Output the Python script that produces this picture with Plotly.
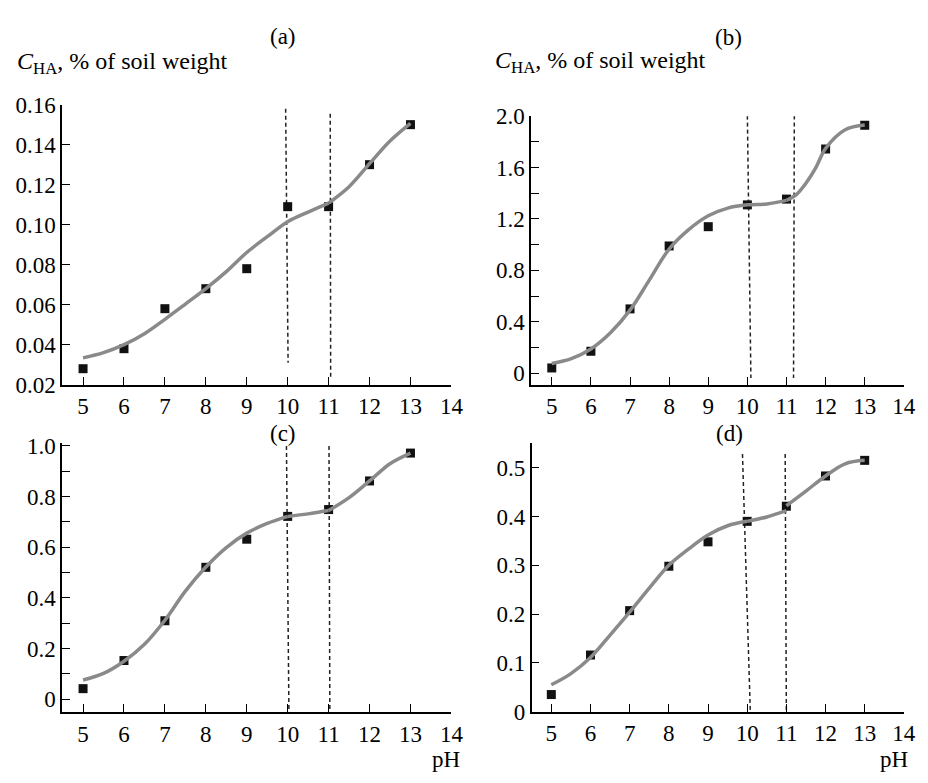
import plotly.graph_objects as go

# ---------------- data ----------------
PH = [5, 6, 7, 8, 9, 10, 11, 12, 13]
X_TICKS = [5, 6, 7, 8, 9, 10, 11, 12, 13, 14]

CHA_A = [0.028, 0.038, 0.058, 0.068, 0.078, 0.109, 0.109, 0.130, 0.150]
CHA_B = [0.04, 0.17, 0.50, 0.99, 1.14, 1.31, 1.355, 1.745, 1.93]
CHA_C = [0.042, 0.153, 0.31, 0.521, 0.632, 0.722, 0.749, 0.862, 0.972]
CHA_D = [0.035, 0.116, 0.207, 0.298, 0.348, 0.39, 0.421, 0.483, 0.515]

# fitted curves, in segments separated at the dashed lines
FIT_A_X = [[5, 5.5, 6, 6.5, 7, 7.5, 8, 8.5, 9, 9.5, 10, 10.5, 11], [11, 11.5, 12, 12.5, 13]]
FIT_A_Y = [[0.0334, 0.036, 0.040, 0.0455, 0.0527, 0.0603, 0.068, 0.0765, 0.0861, 0.094, 0.1015, 0.1063, 0.1108],
           [0.1108, 0.119, 0.1305, 0.1418, 0.1506]]

FIT_B_X = [[5, 5.5, 6, 6.5, 7, 7.5, 8, 8.5, 9, 9.5, 10, 10.5, 11],
           [11, 11.25, 11.5, 11.75, 12, 12.5, 13]]
FIT_B_Y = [[0.075, 0.113, 0.188, 0.314, 0.49, 0.728, 0.966, 1.117, 1.225, 1.285, 1.31, 1.317, 1.345],
           [1.345, 1.39, 1.48, 1.60, 1.75, 1.895, 1.932]]

FIT_C_X = [[5, 5.5, 6, 6.5, 7, 7.5, 8, 8.5, 9, 9.5, 10], [10, 10.5, 11],
           [11, 11.5, 12, 12.5, 13]]
FIT_C_Y = [[0.076, 0.102, 0.15, 0.217, 0.312, 0.427, 0.522, 0.599, 0.656, 0.694, 0.722],
           [0.722, 0.732, 0.745], [0.745, 0.796, 0.862, 0.93, 0.972]]

FIT_D_X = [[5, 5.5, 6, 6.5, 7, 7.5, 8, 8.5, 9, 9.5, 10], [10, 10.5, 11],
           [11, 11.5, 12, 12.5, 13]]
FIT_D_Y = [[0.055, 0.078, 0.111, 0.157, 0.204, 0.253, 0.30, 0.333, 0.362, 0.381, 0.39],
           [0.39, 0.399, 0.412], [0.422, 0.452, 0.483, 0.508, 0.515]]

# dashed boundary lines: [x_top, x_bottom], [y_top, y_bottom]
DASH_A_X = [[9.95, 10.01], [11.04, 11.05]]
DASH_A_Y = [[0.158, 0.031], [0.1555, 0.024]]
DASH_B_X = [[10.0, 10.09], [11.2, 11.18]]
DASH_B_Y = [[2.005, -0.038], [2.005, -0.038]]
DASH_C_X = [[9.97, 10.03], [11.01, 11.03]]
DASH_C_Y = [[1.0, -0.045], [1.0, -0.045]]
DASH_D_X = [[9.88, 10.08], [10.97, 11.0]]
DASH_D_Y = [[0.528, 0.0], [0.528, 0.0]]

Y_TICKS_A = [0.02, 0.04, 0.06, 0.08, 0.10, 0.12, 0.14, 0.16]
Y_TEXT_A = ["0.02", "0.04", "0.06", "0.08", "0.10", "0.12", "0.14", "0.16"]
Y_TICKS_B = [0, 0.4, 0.8, 1.2, 1.6, 2.0]
Y_TEXT_B = ["0", "0.4", "0.8", "1.2", "1.6", "2.0"]
Y_TICKS_C = [0, 0.2, 0.4, 0.6, 0.8, 1.0]
Y_TEXT_C = ["0", "0.2", "0.4", "0.6", "0.8", "1.0"]
Y_TICKS_D = [0, 0.1, 0.2, 0.3, 0.4, 0.5]
Y_TEXT_D = ["0", "0.1", "0.2", "0.3", "0.4", "0.5"]

PANEL_LABELS = ["(a)", "(b)", "(c)", "(d)"]
Y_LABEL = "<i>C</i><sub>HA</sub>, % of soil weight"
X_LABEL = "pH"

# ---------------- layout geometry (pixels) ----------------
W, H = 928, 783
FONT = "Liberation Serif, Times New Roman, serif"
CURVE = "#8a8a8a"


def fx(p):
    return p / W


def fy(p):
    return 1 - p / H


fig = go.Figure()

panels = [
    ("x", "y", CHA_A, FIT_A_X, FIT_A_Y, DASH_A_X, DASH_A_Y),
    ("x2", "y2", CHA_B, FIT_B_X, FIT_B_Y, DASH_B_X, DASH_B_Y),
    ("x3", "y3", CHA_C, FIT_C_X, FIT_C_Y, DASH_C_X, DASH_C_Y),
    ("x4", "y4", CHA_D, FIT_D_X, FIT_D_Y, DASH_D_X, DASH_D_Y),
]

for xa, ya, pts, fxs, fys, dxs, dys in panels:
    for dx, dy in zip(dxs, dys):
        fig.add_trace(go.Scatter(x=dx, y=dy, mode="lines", xaxis=xa, yaxis=ya,
                                 line=dict(color="#222222", width=1.5, dash="4px,3px"),
                                 showlegend=False, hoverinfo="skip"))
    fig.add_trace(go.Scatter(x=PH, y=pts, mode="markers", xaxis=xa, yaxis=ya,
                             marker=dict(symbol="square", size=9, color="#111111",
                                         line=dict(width=0)),
                             showlegend=False, cliponaxis=False))
    for sx, sy in zip(fxs, fys):
        fig.add_trace(go.Scatter(x=sx, y=sy, mode="lines", xaxis=xa, yaxis=ya,
                                 line=dict(color=CURVE, width=3.5, shape="spline", smoothing=1.0),
                                 showlegend=False, hoverinfo="skip"))

tickfont = dict(family=FONT, size=23, color="black")


def xaxis(domain, rng, anchor):
    return dict(domain=domain, range=rng, anchor=anchor, tickmode="array",
                tickvals=X_TICKS, ticktext=[str(t) for t in X_TICKS],
                ticks="inside", ticklen=8, tickwidth=1.3, tickcolor="black",
                showline=True, linecolor="black", linewidth=1.5,
                showgrid=False, zeroline=False, tickfont=tickfont)


def yaxis(domain, rng, anchor, vals, text, minor=None):
    d = dict(domain=domain, range=rng, anchor=anchor, tickmode="array",
             tickvals=vals, ticktext=text,
             ticks="inside", ticklen=8, tickwidth=1.3, tickcolor="black",
             showline=True, linecolor="black", linewidth=1.5,
             showgrid=False, zeroline=False, tickfont=tickfont)
    if minor is not None:
        d["minor"] = dict(dtick=minor, tick0=0, ticks="inside", ticklen=8,
                          tickwidth=1.3, tickcolor="black", showgrid=False)
    return d


fig.update_layout(
    width=W, height=H,
    margin=dict(l=0, r=0, t=0, b=0),
    paper_bgcolor="white", plot_bgcolor="white",
    xaxis=xaxis([fx(63), fx(457.3)], [4.49, 14], "y"),
    yaxis=yaxis([fy(385), fy(95.7)], [0.02, 0.16], "x", Y_TICKS_A, Y_TEXT_A),
    xaxis2=xaxis([fx(538), fx(915.7)], [4.47, 14], "y2"),
    yaxis2=yaxis([fy(385), fy(107.7)], [-0.0905, 2.0], "x2", Y_TICKS_B, Y_TEXT_B, minor=0.2),
    xaxis3=xaxis([fx(63), fx(457.3)], [4.49, 14], "y3"),
    yaxis3=yaxis([fy(723.3), fy(445)], [-0.051, 1.0126], "x3", Y_TICKS_C, Y_TEXT_C, minor=0.1),
    xaxis4=xaxis([fx(538.5), fx(915.7)], [4.495, 14], "y4"),
    yaxis4=yaxis([fy(722.7), fy(445)], [0, 0.551], "x4", Y_TICKS_D, Y_TEXT_D),
)

ann_font = dict(family=FONT, size=23, color="black")
label_pos = [(287, 25), (738, 26), (287, 435), (739, 435)]
for txt, (lx, ly) in zip(PANEL_LABELS, label_pos):
    fig.add_annotation(text=txt, x=fx(lx), y=fy(ly), xref="paper", yref="paper",
                       showarrow=False, xanchor="center", yanchor="middle", font=ann_font)

for lx, ly in [(15, 53), (499, 52)]:
    fig.add_annotation(text=Y_LABEL, x=fx(lx), y=fy(ly), xref="paper", yref="paper",
                       showarrow=False, xanchor="left", yanchor="middle",
                       font=dict(family=FONT, size=24, color="black"))

for lx, ly in [(452, 772), (906, 772)]:
    fig.add_annotation(text=X_LABEL, x=fx(lx), y=fy(ly), xref="paper", yref="paper",
                       showarrow=False, xanchor="center", yanchor="middle", font=ann_font)

fig.write_html("out.html", config={"displayModeBar": False},
               post_script="document.body.style.margin='0';")
